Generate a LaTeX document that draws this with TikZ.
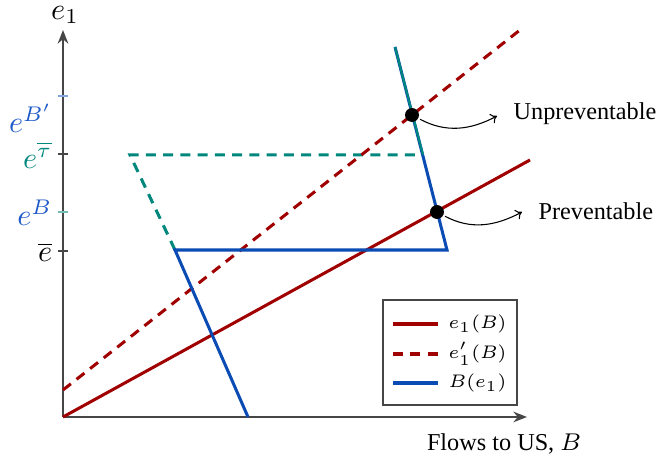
\documentclass[tikz,border=0pt]{standalone}
\usepackage[no-math]{fontspec}
\setmainfont{Liberation Serif}
\usetikzlibrary{arrows.meta}
\definecolor{axisgray}{RGB}{70,70,70}
\definecolor{lineRed}{RGB}{160,0,0}
\definecolor{lineBlue}{RGB}{10,75,180}
\definecolor{lineTeal}{RGB}{0,135,125}
\definecolor{labBlue}{RGB}{30,90,200}
\begin{document}
\begin{tikzpicture}[
            x=0.33pt, y=0.33pt,
            axis/.style={draw=axisgray, line width=0.6pt, -{Stealth[length=4.5pt, width=3.5pt]}},
            tick/.style={line width=0.6pt},
            rline/.style={draw=lineRed, line width=1pt},
            bline/.style={draw=lineBlue, line width=1pt, line join=miter},
            tline/.style={draw=lineTeal, line width=1pt},
            dashline/.style={dash pattern=on 3.3pt off 2.4pt},
            dot/.style={circle, fill=black, minimum size=4.6pt, inner sep=0pt},
            callout/.style={-{To[length=2pt, width=3.5pt]}, line width=0.35pt, shorten <=0.5pt},
            legtext/.style={right, font=\fontsize{6.2}{7}\selectfont}
        ]
            \useasboundingbox (-63,-42) rectangle (602,417);
            % axes
            \coordinate (o) at (0,0);
            \coordinate (ytop) at (0,387);
            \coordinate (xend) at (464,0);
            \draw[axis] (o) -- (ytop);
            \draw[axis] (o) -- (xend);
            \node[inner sep=0pt] (ylab) at (2,402) {$e_1$};
            \node[below] (xlab) at (441,-6) {\footnotesize Flows to US, $B$};
            % ticks and levels
            \draw[tick, draw=labBlue!55] (-5,321) -- (5,321);
            \draw[tick, draw=axisgray] (-5,263) -- (5,263);
            \draw[tick, draw=lineTeal!55] (-5,205) -- (5,205);
            \draw[tick, draw=axisgray] (-5,166) -- (5,166);
            \node[anchor=east, text=labBlue] (eBp) at (0,299) {$e^{B'}$};
            \node[anchor=east, text=lineTeal] (etau) at (0,262) {$e^{\overline{\tau}}$};
            \node[anchor=east, text=labBlue] (eB) at (0,204) {$e^{B}$};
            \node[anchor=east] (ebar) at (0,165) {$\overline{e}$};
            % curves
            \coordinate (r1) at (467,257);
            \coordinate (r2) at (0,27);
            \coordinate (r3) at (457,387);
            \coordinate (b0) at (185,0);
            \coordinate (b1) at (112,167);
            \coordinate (b2) at (384,167);
            \coordinate (b3) at (332,370);
            \coordinate (t1) at (67,262);
            \coordinate (t2) at (357,262);
            \coordinate (t3) at (360,262);
            \draw[tline, dashline] (b1) -- (t1) -- (t2);
            \draw[rline] (o) -- (r1);
            \draw[rline, dashline] (r2) -- (r3);
            \draw[bline] (b0) -- (b1) -- (b2) -- (b3);
            \draw[tline, line width=0.7pt] (b3) -- (t3);
            % equilibria
            \node[dot] (pU) at (349,302) {};
            \node[dot] (pP) at (374,205) {};
            \coordinate (uEnd) at (434,301);
            \coordinate (pEnd) at (459,205);
            \node[anchor=west, inner sep=1pt] (unprev) at (447,303) {\footnotesize Unpreventable};
            \node[anchor=west, inner sep=1pt] (prev) at (472,206) {\footnotesize Preventable};
            \draw[callout] (pU) to[out=-28, in=208] (uEnd);
            \draw[callout] (pP) to[out=-28, in=208] (pEnd);
            % legend
            \draw[draw=axisgray, line width=0.5pt] (320,12) rectangle (454,117);
            \draw[rline] (330,93) -- (375,93);
            \draw[rline, dashline] (330,63) -- (375,63);
            \draw[bline] (330,34) -- (375,34);
            \node[legtext] (leg1) at (375,93) {$e_1(B)$};
            \node[legtext] (leg2) at (375,63) {$e_1'(B)$};
            \node[legtext] (leg3) at (375,34) {$B(e_1)$};
        \end{tikzpicture}
\end{document}
